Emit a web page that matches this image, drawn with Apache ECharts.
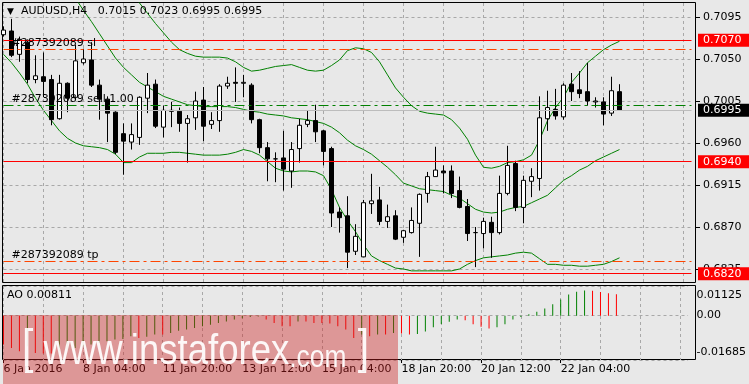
<!DOCTYPE html>
<html><head><meta charset="utf-8">
<script src="https://cdn.jsdelivr.net/npm/echarts@6/dist/echarts.min.js"></script>
<style>html,body{margin:0;padding:0;background:#e8e8e8}#c{width:749px;height:384px}</style>
</head><body><div id="c"></div>
<script>
const tickLabels = ['6 Jan 2016','8 Jan 04:00','11 Jan 20:00','13 Jan 12:00','15 Jan 04:00','18 Jan 20:00','20 Jan 12:00','22 Jan 04:00'];
const slotCount = 87;
const opens = [0.7076,0.7080,0.7055,0.7068,0.7028,0.7031,0.7028,0.6986,0.7024,0.7009,
0.7046,0.7049,0.7022,0.7007,0.6993,0.6970,0.6961,0.6966,0.7008,0.7023,
0.6977,0.6995,0.6994,0.6981,0.6987,0.7006,0.6980,0.6984,0.7021,0.7025,
0.7024,0.7022,0.6985,0.6955,0.6943,0.6944,0.6930,0.6954,0.6980,0.6984,
0.6973,0.6954,0.6886,0.6882,0.6844,0.6838,0.6895,0.6899,0.6876,0.6882,
0.6859,0.6864,0.6874,0.6906,0.6924,0.6930,0.6930,0.6909,0.6892,0.6864,
0.6863,0.6875,0.6864,0.6906,0.6938,0.6891,0.6919,0.6922,0.6986,0.6996,
0.6988,0.7023,0.7017,0.7015,0.7004,0.7004,0.6992,0.7015];
const closes = [0.7081,0.7054,0.7071,0.7028,0.7032,0.7026,0.6985,0.7024,0.7008,0.7048,
0.7050,0.7022,0.7007,0.6992,0.6950,0.6962,0.6969,0.7009,0.7022,0.6978,
0.6995,0.6994,0.6981,0.6986,0.7005,0.6978,0.6984,0.7021,0.7024,0.7024,
0.7025,0.6985,0.6955,0.6943,0.6943,0.6932,0.6953,0.6979,0.6984,0.6972,
0.6951,0.6885,0.6880,0.6843,0.6860,0.6896,0.6898,0.6876,0.6881,0.6857,
0.6866,0.6877,0.6905,0.6924,0.6931,0.6928,0.6906,0.6891,0.6863,0.6864,
0.6876,0.6864,0.6906,0.6936,0.6891,0.6920,0.6924,0.6987,0.6998,0.6989,
0.7022,0.7015,0.7013,0.7005,0.7005,0.6991,0.7016,0.6995];
const lows = [0.7074,0.7052,0.7047,0.7024,0.7024,0.7009,0.6979,0.6985,0.6993,0.7006,
0.7044,0.7020,0.6985,0.6961,0.6948,0.6926,0.6953,0.6958,0.6992,0.6976,
0.6966,0.6977,0.6972,0.6939,0.6974,0.6962,0.6975,0.6972,0.7018,0.7004,
0.7009,0.6981,0.6949,0.6919,0.6918,0.6909,0.6912,0.6939,0.6977,0.6961,
0.6936,0.6870,0.6864,0.6826,0.6840,0.6838,0.6884,0.6872,0.6869,0.6856,
0.6853,0.6863,0.6838,0.6896,0.6924,0.6906,0.6901,0.6890,0.6855,0.6827,
0.6847,0.6837,0.6862,0.6904,0.6887,0.6874,0.6902,0.6909,0.6973,0.6985,
0.6985,0.7005,0.7008,0.7000,0.6998,0.6979,0.6989,0.6995];
const highs = [0.7085,0.7093,0.7074,0.7071,0.7054,0.7057,0.7033,0.7033,0.7025,0.7065,
0.7061,0.7068,0.7028,0.7010,0.6994,0.6981,0.6981,0.7010,0.7035,0.7028,
0.7000,0.7004,0.6998,0.6990,0.7015,0.7020,0.6993,0.7023,0.7031,0.7041,
0.7033,0.7024,0.6986,0.6961,0.6950,0.6973,0.6961,0.6986,0.6995,0.7001,
0.6974,0.6956,0.6891,0.6903,0.6873,0.6899,0.6927,0.6913,0.6894,0.6888,
0.6867,0.6891,0.6906,0.6929,0.6956,0.6936,0.6936,0.6924,0.6900,0.6870,
0.6880,0.6881,0.6925,0.6957,0.6941,0.6925,0.6933,0.7010,0.7016,0.7018,
0.7024,0.7035,0.7037,0.7046,0.7009,0.7009,0.7031,0.7023];
const bbUpper = [null,null,null,null,null,null,null,null,null,null,
null,null,null,null,null,null,0.7122,0.7110,0.7099,0.7088,
0.7078,0.7068,0.7060,0.7056,0.7053,0.7052,0.7052,0.7052,0.7051,0.7047,
0.7041,0.7037,0.7038,0.7040,0.7042,0.7043,0.7044,0.7041,0.7038,0.7037,
0.7038,0.7043,0.7049,0.7059,0.7062,0.7061,0.7057,0.7047,0.7033,0.7019,
0.7009,0.7000,0.6994,0.6992,0.6991,0.6990,0.6985,0.6976,0.6964,0.6947,
0.6934,0.6933,0.6935,0.6939,0.6940,0.6942,0.6947,0.6963,0.6984,0.6998,
0.7009,0.7025,0.7035,0.7046,0.7053,0.7060,0.7065,0.7069];
const bbMiddle = [null,null,null,null,null,null,null,null,0.7128,0.7115,
0.7102,0.7090,0.7077,0.7064,0.7051,0.7041,0.7033,0.7025,0.7020,0.7015,
0.7010,0.7007,0.7004,0.7001,0.7000,0.6999,0.6999,0.6999,0.6999,0.6998,
0.6996,0.6994,0.6993,0.6991,0.6990,0.6989,0.6987,0.6986,0.6985,0.6983,
0.6981,0.6977,0.6971,0.6963,0.6957,0.6953,0.6948,0.6941,0.6934,0.6926,
0.6917,0.6914,0.6911,0.6910,0.6909,0.6908,0.6904,0.6901,0.6895,0.6889,
0.6886,0.6885,0.6886,0.6889,0.6891,0.6892,0.6896,0.6900,0.6904,0.6912,
0.6920,0.6925,0.6931,0.6935,0.6941,0.6945,0.6949,0.6953];
const bbLower = [0.7055,0.7046,0.7035,0.7023,0.7008,0.6995,0.6984,0.6973,0.6965,0.6960,
0.6957,0.6956,0.6955,0.6953,0.6948,0.6939,0.6939,0.6945,0.6949,0.6949,
0.6949,0.6950,0.6950,0.6949,0.6948,0.6947,0.6947,0.6947,0.6948,0.6950,
0.6953,0.6951,0.6947,0.6940,0.6933,0.6930,0.6929,0.6930,0.6930,0.6929,
0.6925,0.6910,0.6891,0.6877,0.6865,0.6851,0.6839,0.6834,0.6830,0.6826,
0.6825,0.6823,0.6823,0.6823,0.6823,0.6823,0.6823,0.6825,0.6830,0.6834,
0.6837,0.6838,0.6839,0.6840,0.6842,0.6843,0.6842,0.6836,0.6830,0.6830,
0.6829,0.6829,0.6828,0.6828,0.6829,0.6830,0.6833,0.6837];
const aoValues = [-0.0110,-0.0123,-0.0135,-0.0116,-0.0142,-0.0144,-0.0144,-0.0135,-0.0129,-0.0123,
-0.0116,-0.0110,-0.0104,-0.0097,-0.0091,-0.0089,-0.0078,-0.0085,-0.0080,-0.0072,
-0.0072,-0.0066,-0.0057,-0.0053,-0.0047,-0.0040,-0.0035,-0.0028,-0.0022,-0.0015,
-0.0010,-0.0005,-0.0003,-0.0015,-0.0028,-0.0040,-0.0040,-0.0022,-0.0022,-0.0028,
-0.0028,-0.0030,-0.0040,-0.0053,-0.0085,-0.0072,-0.0078,-0.0072,-0.0072,-0.0066,
-0.0068,-0.0072,-0.0070,-0.0060,-0.0044,-0.0032,-0.0023,-0.0015,-0.0018,-0.0033,
-0.0042,-0.0049,-0.0044,-0.0033,-0.0015,-0.0005,0.0005,0.0015,0.0027,0.0043,
0.0061,0.0080,0.0091,0.0095,0.0094,0.0090,0.0085,0.00811];
const priceTicks = [0.6825,0.6870,0.6915,0.6960,0.7005,0.7050,0.7095];
const aoTicks = [-0.01685,0,0.01125];
const redLevels = [0.7070,0.6940,0.6820];
const slLevel = 0.7060, tpLevel = 0.6833, openLevel = 0.7000, bidLevel = 0.6995;

const FONT = 'DejaVu Sans';
const GREEN = '#008000', RED = '#ff0000', ORANGE = '#ff4500', BIDGRAY = '#bcbcbc';
const cats = Array.from({length: slotCount}, (_, i) => String(i));
const candles = opens.map((o, i) => [o, closes[i], lows[i], highs[i]]);
const gridLine = {show: true, interval: 4, lineStyle: {color: '#a8a8a8', type: [3, 3], width: 1}};
const DASHDOT = [10, 4, 3, 4];
const labelled = i => i % 10 === 0 && (i / 10) < tickLabels.length;

const boxLabel = (v, bg) => ({show: true, position: 'end', distance: 6.5, formatter: v.toFixed(4), color: '#fff',
  backgroundColor: bg, padding: [1, 8, 1, 5], fontFamily: FONT, fontSize: 11});
const orderLabel = txt => ({show: true, position: 'insideStartTop', distance: [8, 1], formatter: txt,
  color: '#000', fontFamily: FONT, fontSize: 11});
function levelHost(color, type, items) {
  return {type: 'line', xAxisIndex: 0, yAxisIndex: 0, data: [], color: color, z: 1,
    lineStyle: {color: color}, itemStyle: {color: color},
    markLine: {silent: true, symbol: ['none', 'none'], animation: false, precision: 4,
      lineStyle: {color: color, type: type, width: 1},
      data: items.map(it => Object.assign({lineStyle: {color: color, type: type, width: 1}}, it))}};
}

const chart = echarts.init(document.getElementById('c'), null, {renderer: 'canvas'});
chart.setOption({
  animation: false,
  backgroundColor: '#e8e8e8',
  textStyle: {fontFamily: FONT},
  title: [
    {text: '{t|▼}  AUDUSD,H4   0.7015 0.7023 0.6995 0.6995', left: 7, top: 6, padding: 0,
     textStyle: {fontFamily: FONT, fontSize: 11, fontWeight: 'normal', color: '#000',
       rich: {t: {fontSize: 9, fontFamily: FONT, color: '#000'}}}},
    {text: 'AO 0.00811', left: 7, top: 290, padding: 0,
     textStyle: {fontFamily: FONT, fontSize: 11, fontWeight: 'normal', color: '#000'}}
  ],
  grid: [
    {left: 3.5, top: 3, width: 688, height: 280},
    {left: 3.5, top: 286, width: 688, height: 74},
    {left: 2.5, top: 2.5, width: 693, height: 280, show: true, borderColor: '#000', borderWidth: 1, backgroundColor: 'transparent', z: 0},
    {left: 2.5, top: 285.5, width: 693, height: 74, show: true, borderColor: '#000', borderWidth: 1, backgroundColor: 'transparent', z: 0}
  ],
  xAxis: [
    {type: 'category', gridIndex: 0, data: cats, boundaryGap: false, axisLine: {show: false, onZero: false},
     axisTick: {show: false}, axisLabel: {show: false}, splitLine: gridLine},
    {type: 'category', gridIndex: 1, data: cats, boundaryGap: false, position: 'bottom',
     axisLine: {show: false, onZero: false},
     axisTick: {show: true, interval: labelled, length: 3, lineStyle: {color: '#000'}},
     axisLabel: {show: true, interval: labelled, align: 'left', margin: 4, color: '#000', fontFamily: FONT, fontSize: 11,
       formatter: (v, i) => tickLabels[i / 10] || ''},
     splitLine: gridLine},
    {type: 'value', gridIndex: 2, show: false},
    {type: 'value', gridIndex: 3, show: false}
  ],
  yAxis: [
    {type: 'value', gridIndex: 0, position: 'right', offset: 4.5, min: 0.6810, max: 0.7110,
     axisLine: {show: false},
     axisTick: {show: true, length: 4, customValues: priceTicks, lineStyle: {color: '#000'}},
     axisLabel: {customValues: priceTicks, margin: 7, color: '#000', fontFamily: FONT, fontSize: 11,
       formatter: v => v.toFixed(4)},
     splitLine: {show: true, lineStyle: {color: '#a8a8a8', type: [3, 3]}}},
    {type: 'value', gridIndex: 1, position: 'right', offset: 4.5, min: -0.01685, max: 0.01125,
     axisLine: {show: false},
     axisTick: {show: false, customValues: aoTicks},
     axisLabel: {customValues: aoTicks, margin: 4, color: '#000', fontFamily: FONT, fontSize: 11,
       formatter: v => v > 0 ? '{t|' + v.toFixed(5) + '}' : (v < 0 ? '{b|' + v.toFixed(5) + '}' : '0.00'),
       rich: {t: {padding: [18, 0, 0, 0], fontFamily: FONT, fontSize: 11, color: '#000'},
              b: {padding: [0, 0, 16, 0], fontFamily: FONT, fontSize: 11, color: '#000'}}},
     splitLine: {show: true, lineStyle: {color: '#a8a8a8', type: [3, 3]}}},
    {type: 'value', gridIndex: 2, show: false},
    {type: 'value', gridIndex: 3, show: false}
  ],
  series: [
    levelHost(BIDGRAY, 'solid', [{yAxis: bidLevel, label: boxLabel(bidLevel, '#000')}]),
    levelHost(GREEN, DASHDOT, [{yAxis: openLevel, label: orderLabel('#287392089 sell 1.00')}]),
    levelHost(ORANGE, DASHDOT, [{yAxis: slLevel, label: orderLabel('#287392089 sl')},
                                 {yAxis: tpLevel, label: orderLabel('#287392089 tp')}]),
    levelHost(RED, 'solid', redLevels.map(v => ({yAxis: v, label: boxLabel(v, RED)}))),
    {type: 'line', xAxisIndex: 0, yAxisIndex: 0, data: bbUpper, symbol: 'none', lineStyle: {color: GREEN, width: 1}, z: 2},
    {type: 'line', xAxisIndex: 0, yAxisIndex: 0, data: bbMiddle, symbol: 'none', lineStyle: {color: GREEN, width: 1}, z: 2},
    {type: 'line', xAxisIndex: 0, yAxisIndex: 0, data: bbLower, symbol: 'none', lineStyle: {color: GREEN, width: 1}, z: 2},
    {type: 'candlestick', xAxisIndex: 0, yAxisIndex: 0, data: candles, barWidth: 5, z: 3,
     itemStyle: {color: '#ffffff', color0: '#000000', borderColor: '#000000', borderColor0: '#000000', borderWidth: 1}},
    {type: 'bar', xAxisIndex: 1, yAxisIndex: 1, data: aoValues, barWidth: 1,
     itemStyle: {color: p => (p.dataIndex > 0 && aoValues[p.dataIndex] > aoValues[p.dataIndex - 1]) ? GREEN : RED}}
  ],
  graphic: [
    {type: 'rect', z: 100, silent: true, shape: {x: 3, y: 315, width: 395, height: 69}, style: {fill: 'rgba(205,30,30,0.4)'}},
    {type: 'text', z: 101, silent: true, x: 22, y: 326, scaleX: 0.85,
     style: {text: '{b|[}{w| www.instaforex}{c|.com}{b| ]}', fill: 'rgba(255,255,255,0.92)',
       rich: {b: {fontSize: 48, fontFamily: 'Liberation Sans', fill: 'rgba(255,255,255,0.92)', verticalAlign: 'bottom'},
              w: {fontSize: 43, fontFamily: 'Liberation Sans', fill: 'rgba(255,255,255,0.92)', verticalAlign: 'bottom'},
              c: {fontSize: 31, fontFamily: 'Liberation Sans', fill: 'rgba(255,255,255,0.92)', verticalAlign: 'bottom'}}}}
  ]
});
</script></body></html>
